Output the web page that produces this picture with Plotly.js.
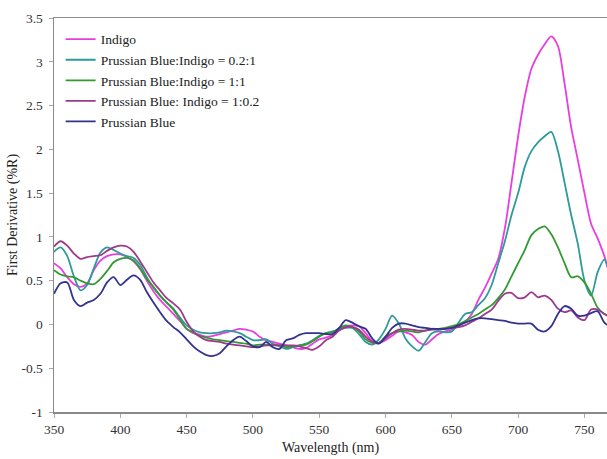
<!DOCTYPE html>
<html>
<head>
<meta charset="utf-8">
<script src="https://cdn.plot.ly/plotly-3.0.1.min.js"></script>
<style>html,body{margin:0;padding:0;background:#fff;}#chart{width:607px;height:459px;}</style>
</head>
<body>
<div id="chart"></div>
<script>
const wavelength = [350,355,360,365,370,375,380,385,390,395,400,405,410,415,420,425,430,435,440,445,450,455,460,465,470,475,480,485,490,495,500,505,510,515,520,525,530,535,540,545,550,555,560,565,570,575,580,585,590,595,600,605,610,615,620,625,630,635,640,645,650,655,660,665,670,675,680,685,690,695,700,705,710,715,720,725,730,735,740,745,750,755,760,765,770];

const indigo = [0.70,0.64,0.54,0.46,0.43,0.47,0.62,0.73,0.78,0.80,0.80,0.77,0.72,0.63,0.50,0.38,0.28,0.20,0.12,0.04,-0.05,-0.10,-0.12,-0.14,-0.13,-0.11,-0.09,-0.07,-0.05,-0.06,-0.08,-0.14,-0.18,-0.20,-0.22,-0.24,-0.26,-0.28,-0.27,-0.22,-0.17,-0.15,-0.12,-0.06,-0.02,-0.01,-0.02,-0.10,-0.19,-0.21,-0.18,-0.13,-0.08,-0.09,-0.12,-0.20,-0.23,-0.17,-0.11,-0.08,-0.06,-0.02,0.03,0.12,0.28,0.42,0.58,0.75,1.10,1.62,2.15,2.60,2.92,3.08,3.20,3.29,3.18,2.75,2.25,1.88,1.50,1.15,0.98,0.78,0.50];

const pbIndigo02_1 = [0.83,0.88,0.78,0.55,0.39,0.45,0.64,0.82,0.88,0.85,0.81,0.78,0.76,0.68,0.54,0.42,0.33,0.25,0.18,0.08,-0.01,-0.06,-0.09,-0.10,-0.10,-0.09,-0.07,-0.08,-0.10,-0.14,-0.18,-0.18,-0.17,-0.22,-0.25,-0.28,-0.26,-0.24,-0.22,-0.18,-0.13,-0.10,-0.08,-0.06,-0.04,-0.04,-0.11,-0.20,-0.23,-0.17,-0.05,0.10,0.01,-0.16,-0.25,-0.30,-0.20,-0.10,-0.08,-0.09,-0.08,0.02,0.12,0.14,0.22,0.30,0.45,0.70,0.95,1.25,1.50,1.80,1.98,2.08,2.15,2.20,1.98,1.62,1.25,0.92,0.50,0.33,0.60,0.74,0.50];

const pbIndigo1_1 = [0.62,0.57,0.55,0.54,0.50,0.47,0.46,0.52,0.61,0.71,0.75,0.76,0.73,0.64,0.52,0.43,0.33,0.25,0.17,0.06,-0.05,-0.09,-0.13,-0.15,-0.17,-0.18,-0.19,-0.20,-0.21,-0.22,-0.24,-0.23,-0.23,-0.23,-0.24,-0.26,-0.25,-0.24,-0.23,-0.19,-0.14,-0.10,-0.09,-0.04,-0.01,-0.03,-0.08,-0.17,-0.21,-0.21,-0.14,-0.10,-0.08,-0.07,-0.08,-0.09,-0.07,-0.05,-0.05,-0.04,-0.02,0.00,0.04,0.08,0.12,0.17,0.22,0.30,0.40,0.55,0.70,0.85,1.02,1.09,1.12,1.03,0.88,0.70,0.54,0.55,0.48,0.35,0.19,0.12,0.10];

const pbIndigo1_02 = [0.89,0.95,0.90,0.81,0.75,0.77,0.78,0.79,0.84,0.88,0.90,0.89,0.83,0.72,0.60,0.48,0.39,0.30,0.24,0.17,0.03,-0.08,-0.14,-0.18,-0.19,-0.20,-0.22,-0.23,-0.24,-0.25,-0.26,-0.25,-0.24,-0.24,-0.24,-0.24,-0.24,-0.25,-0.27,-0.29,-0.25,-0.18,-0.14,-0.07,-0.03,-0.03,-0.06,-0.14,-0.20,-0.21,-0.16,-0.10,-0.06,-0.05,-0.06,-0.07,-0.07,-0.06,-0.06,-0.05,-0.04,-0.03,-0.01,0.03,0.07,0.12,0.17,0.27,0.35,0.36,0.30,0.31,0.37,0.31,0.33,0.28,0.18,0.14,0.16,0.08,0.05,0.17,0.17,0.12,0.08];

const prussianBlue = [0.35,0.47,0.48,0.28,0.21,0.25,0.28,0.35,0.48,0.54,0.45,0.51,0.56,0.51,0.37,0.25,0.14,0.04,-0.03,-0.09,-0.17,-0.25,-0.31,-0.35,-0.36,-0.33,-0.25,-0.18,-0.14,-0.19,-0.25,-0.26,-0.20,-0.26,-0.28,-0.18,-0.16,-0.12,-0.10,-0.10,-0.10,-0.11,-0.11,-0.04,0.05,0.02,-0.02,-0.05,-0.16,-0.22,-0.14,-0.04,0.01,0.01,-0.01,-0.03,-0.04,-0.05,-0.05,-0.05,-0.04,-0.01,0.02,0.05,0.07,0.07,0.06,0.05,0.04,0.02,0.01,0.01,0.01,-0.06,-0.08,-0.02,0.12,0.21,0.18,0.10,0.10,0.13,0.15,0.02,-0.03];

const seriesNames = ["Indigo","Prussian Blue:Indigo = 0.2:1","Prussian Blue:Indigo = 1:1","Prussian Blue: Indigo = 1:0.2","Prussian Blue"];
const seriesColors = ["#e83ee0","#2f9a9a","#339933","#9c3a8c","#33338f"];
const seriesValues = [indigo, pbIndigo02_1, pbIndigo1_1, pbIndigo1_02, prussianBlue];

const xTickVals = [350,400,450,500,550,600,650,700,750];
const yTickVals = [-1,-0.5,0,0.5,1,1.5,2,2.5,3,3.5];
const yTickText = ["-1","-0.5","0","0.5","1","1.5","2","2.5","3","3.5"];

const FONT = "'Liberation Serif', 'Times New Roman', serif";

const traces = seriesValues.map((vals, i) => ({
  x: wavelength, y: vals, type: "scatter", mode: "lines",
  name: seriesNames[i],
  line: {color: seriesColors[i], width: 1.8, shape: "spline", smoothing: 0.8}
}));

const layout = {
  width: 607, height: 459,
  margin: {l: 54, r: 0, t: 18, b: 47, pad: 0},
  paper_bgcolor: "#fff", plot_bgcolor: "#fff",
  font: {family: FONT, size: 13.5, color: "#222"},
  showlegend: true,
  legend: {x: 0.012, y: 0.985, xanchor: "left", yanchor: "top", bgcolor: "rgba(0,0,0,0)",
           font: {family: FONT, size: 13.5, color: "#222"}, tracegroupgap: 0, itemwidth: 30},
  xaxis: {range: [350, 767], tickvals: xTickVals, showgrid: false, zeroline: false,
          showline: true, linecolor: "#8a8a8a", linewidth: 1.5, mirror: true,
          ticks: "outside", ticklen: 4, tickcolor: "#aaa", tickfont: {family: FONT, size: 13.5, color: "#333"},
          title: {text: "Wavelength (nm)", font: {family: FONT, size: 14, color: "#222"}, standoff: 6}},
  yaxis: {range: [-1, 3.5], tickvals: yTickVals, ticktext: yTickText, showgrid: false, zeroline: false,
          showline: true, linecolor: "#8a8a8a", linewidth: 1.5,
          ticks: "outside", ticklen: 4, tickcolor: "#aaa", ticklabelstandoff: 3,
          tickfont: {family: FONT, size: 13.5, color: "#333"}},
  annotations: [{text: "First Derivative (%R)", xref: "paper", yref: "paper", x: 0, y: 0.5,
                 xanchor: "center", yanchor: "middle", xshift: -41, textangle: -90, showarrow: false,
                 font: {family: FONT, size: 14, color: "#222"}}]
};

Plotly.newPlot("chart", traces, layout, {displayModeBar: false, staticPlot: true});
</script>
</body>
</html>
